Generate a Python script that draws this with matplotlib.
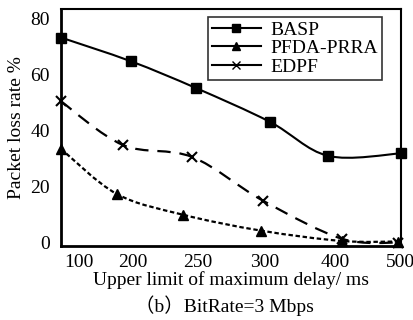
import numpy as np
import matplotlib
matplotlib.use("Agg")
import matplotlib.pyplot as plt
from matplotlib.path import Path
from matplotlib.patches import PathPatch
from matplotlib.lines import Line2D

# Data (x in category units, 0 = first category)
delay_labels = ["100", "200", "250", "300", "400", "500"]
label_pos = [0.26, 1.06, 2.01, 2.99, 4.03, 4.99]

basp_x = [0, 1.03, 1.99, 3.07, 3.93, 5.0]
basp = [73.3, 64.8, 55.2, 43.2, 31.0, 31.9]

pfda_x = [0, 0.82, 1.79, 2.94, 4.13, 4.96]
pfda_prra = [33.5, 17.4, 10.0, 4.3, 0.6, 0.4]

edpf_x = [0, 0.91, 1.93, 2.97, 4.13, 4.96]
edpf = [50.5, 34.9, 30.6, 15.0, 1.4, 0.0]

SERIF = ["Liberation Serif", "Noto Sans CJK SC"]
plt.rcParams["font.family"] = SERIF


def smooth_path(xs, ys):
    """Catmull-Rom spline through the points, as cubic Bezier path."""
    pts = np.column_stack([xs, ys]).astype(float)
    n = len(pts)
    verts = [pts[0]]
    codes = [Path.MOVETO]
    for i in range(n - 1):
        p0 = pts[i - 1] if i > 0 else pts[i]
        p1 = pts[i]
        p2 = pts[i + 1]
        p3 = pts[i + 2] if i + 2 < n else pts[i + 1]
        c1 = p1 + (p2 - p0) / 6.0
        c2 = p2 - (p3 - p1) / 6.0
        verts += [c1, c2, p2]
        codes += [Path.CURVE4] * 3
    return Path(verts, codes)


fig = plt.figure(figsize=(4.14, 3.2), dpi=100)
ax = fig.add_axes([61 / 414, 1 - 246 / 320, 340 / 414, 237 / 320])

series = [
    (basp_x, basp, "s", (0, ()), 1.5, 7, "BASP", 6),
    (edpf_x, edpf, "x", (0, (6, 4)), 1.6, 7, "EDPF", 4),
    (pfda_x, pfda_prra, "^", (0, (2, 1.2)), 1.6, 7, "PFDA-PRRA", 5),
]

for xs, ys, mk, ls, lw, ms, name, z in series:
    patch = PathPatch(smooth_path(xs, ys), fill=False, edgecolor="black",
                      linewidth=lw, linestyle=ls)
    ax.add_patch(patch)
    ax.plot(xs, ys, linestyle="none", marker=mk, color="black",
            markersize=ms, markeredgewidth=1.5 if mk == "x" else 1,
            clip_on=False, zorder=z)

ax.set_xlim(0, 5)
ax.set_ylim(-1.2, 83.5)
ax.set_yticks([0, 20, 40, 60, 80])
ax.set_xticks(label_pos)
ax.set_xticklabels(delay_labels)
ax.tick_params(axis="y", length=0, labelsize=14, pad=8)
ax.tick_params(axis="x", length=0, labelsize=14, pad=6)

for side in ["left", "bottom"]:
    ax.spines[side].set_linewidth(2)
for side in ["top", "right"]:
    ax.spines[side].set_linewidth(1.5)

ax.set_ylabel("Packet loss rate %", fontsize=14, labelpad=4)
ax.set_xlabel("Upper limit of maximum delay/ ms", fontsize=14, labelpad=0)

legend_order = ["BASP", "PFDA-PRRA", "EDPF"]
legend_marks = {"BASP": "s", "PFDA-PRRA": "^", "EDPF": "x"}
handles = [Line2D([], [], color="black", lw=1.5, marker=legend_marks[n], markersize=6)
           for n in legend_order]
leg = ax.legend(handles, legend_order, loc="upper right",
                bbox_to_anchor=(0.944, 0.966), fontsize=14, frameon=True,
                fancybox=False, edgecolor="black", handlelength=2.5,
                handletextpad=0.5, labelspacing=0.05, borderpad=0.2,
                borderaxespad=0)
leg.get_frame().set_linewidth(1.2)

fig.text(0.543, 0.045, "（b）BitRate=3 Mbps", ha="center", va="center",
         fontsize=14, family=SERIF)

fig.savefig("out.png", dpi=100)
